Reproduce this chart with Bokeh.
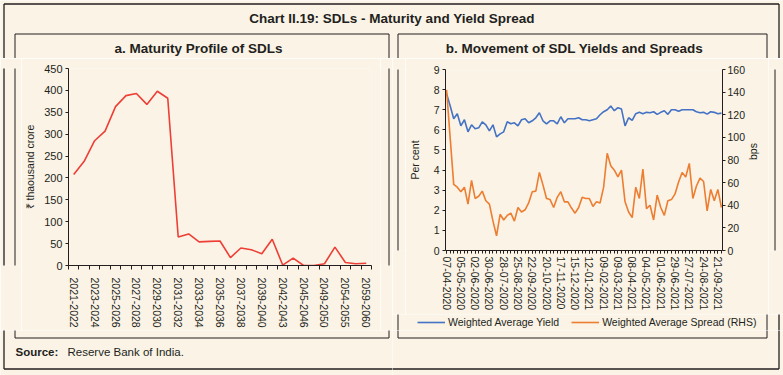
import math
from bokeh.plotting import figure
from bokeh.layouts import column, row
from bokeh.models import Range1d, LinearAxis, FixedTicker, Legend, LegendItem
from bokeh.embed import file_html
from bokeh.resources import INLINE
from bokeh.core.properties import value

# ---------------- data ----------------
maturity_years = [
    "2021-2022", "2022-2023", "2023-2024", "2024-2025", "2025-2026", "2026-2027",
    "2027-2028", "2028-2029", "2029-2030", "2030-2031", "2031-2032", "2032-2033",
    "2033-2034", "2034-2035", "2035-2036", "2036-2037", "2037-2038", "2038-2039",
    "2039-2040", "2040-2041", "2042-2043", "2043-2044", "2045-2046", "2047-2048",
    "2049-2050", "2051-2052", "2054-2055", "2056-2057", "2059-2060",
]
maturity_values = [
    208, 238, 285, 307, 363, 388, 393, 368, 398, 382,
    65, 72, 54, 55, 56, 18, 40, 36, 27, 60,
    1, 17, 0, 0, 4, 42, 7, 4, 5,
]

week_labels = [
    "07-04-2020", "05-05-2020", "02-06-2020", "30-06-2020", "28-07-2020",
    "25-08-2020", "22-09-2020", "20-10-2020", "17-11-2020", "15-12-2020",
    "12-01-2021", "09-02-2021", "09-03-2021", "08-04-2021", "04-05-2021",
    "01-06-2021", "29-06-2021", "27-07-2021", "24-08-2021", "21-09-2021",
]
yield_pct = [
    7.8, 7.2, 6.55, 6.8, 6.2, 6.5, 5.9, 6.25, 6.05, 6.1,
    6.4, 6.25, 5.95, 6.25, 5.65, 5.8, 5.9, 6.4, 6.3, 6.35,
    6.2, 6.5, 6.55, 6.35, 6.45, 6.6, 6.85, 6.45, 6.3, 6.45,
    6.45, 6.3, 6.65, 6.35, 6.55, 6.55, 6.55, 6.6, 6.5, 6.5,
    6.45, 6.5, 6.55, 6.75, 6.9, 7.0, 7.18, 6.95, 7.1, 7.03,
    6.2, 6.6, 6.47, 6.8, 6.87, 6.8, 6.87, 6.85, 6.9, 6.77,
    6.87, 6.95, 6.77, 7.0, 7.0, 6.92, 7.0, 7.0, 7.0, 7.0,
    6.9, 6.85, 6.87, 6.78, 6.9, 6.87, 6.8, 6.83,
]
spread_bps = [
    142, 100, 58.5, 56, 52, 56, 41, 62, 46, 48,
    52.5, 44, 41, 26, 13, 32, 27, 31, 33, 26,
    38, 34, 36, 42, 52, 52.5, 69, 58, 46, 45,
    38, 47, 52, 43, 43, 37.5, 33, 38, 47, 46,
    46, 39, 43, 42, 56, 86, 75, 71, 65, 71,
    43, 34, 29, 56, 46, 72, 37, 40, 27, 49,
    38, 31, 44, 45, 50, 60.5, 69, 65, 77, 46,
    57, 64, 61, 35, 54, 44, 54, 38,
]
series_names = ["Weighted Average Yield", "Weighted Average Spread (RHS)"]

# ---------------- style ----------------
BG = "#FAF3E6"
INK = "#231F20"
FONT = "Liberation Sans"
RED = "#EE3F36"
BLUE = "#4472C4"
ORANGE = "#ED7D31"

W, H = 783, 375
TOP_H = 58          # title band
MID_H = 272         # chart band (58..330)
LEG_H = 16          # legend band under right chart (314..330)
BOT_H = H - TOP_H - MID_H
SPLIT = 392         # left / right halves

# frame segments in page pixels (x0, y0, x1, y1, width)
SEGS = [
    (3.5, 3.5, 778.5, 3.5, 1.3), (3.5, 368.5, 778.5, 368.5, 1.3),
    (3.5, 3.5, 3.5, 368.5, 1.3), (778.5, 3.5, 778.5, 368.5, 1.3),
    (14.5, 33.5, 388.5, 33.5, 1), (14.5, 337.5, 388.5, 337.5, 1),
    (14.5, 33.5, 14.5, 337.5, 1), (388.5, 33.5, 388.5, 337.5, 1),
    (397.5, 33.5, 766.5, 33.5, 1), (397.5, 337.5, 766.5, 337.5, 1),
    (397.5, 33.5, 397.5, 337.5, 1), (766.5, 33.5, 766.5, 337.5, 1),
]


def deco_fig(w, h, ox, oy):
    p = figure(width=w, height=h, x_range=Range1d(0, w), y_range=Range1d(h, 0),
               x_axis_type=None, y_axis_type=None, toolbar_location=None,
               output_backend="svg", min_border=0)
    p.outline_line_color = None
    p.background_fill_color = BG
    p.border_fill_color = BG
    for lw in sorted(set(s[4] for s in SEGS)):
        ss = [s for s in SEGS if s[4] == lw]
        p.segment(x0=[s[0] - ox for s in ss], y0=[s[1] - oy for s in ss],
                  x1=[s[2] - ox for s in ss], y1=[s[3] - oy for s in ss],
                  line_color=INK, line_width=lw)
    return p


def style_axis(ax, size):
    ax.axis_line_color = INK
    ax.major_tick_line_color = INK
    ax.minor_tick_line_color = INK
    ax.major_label_text_font = FONT
    ax.major_label_text_font_size = size
    ax.major_label_text_color = INK
    ax.axis_label_text_font = FONT
    ax.axis_label_text_font_style = "normal"
    ax.axis_label_text_font_size = size
    ax.axis_label_text_color = INK
    ax.major_tick_in = 0
    ax.minor_tick_in = 0


# ---------------- top band ----------------
top = deco_fig(W, TOP_H, 0, 0)
top.text(x=[391.5], y=[18], text=["Chart II.19: SDLs - Maturity and Yield Spread"],
         text_font=value(FONT), text_font_style="bold",
         text_font_size="13.5px", text_align="center", text_baseline="middle",
         text_color=INK)
top.text(x=[198, 574], y=[48, 48],
         text=["a. Maturity Profile of SDLs", "b. Movement of SDL Yields and Spreads"],
         text_font=value(FONT), text_font_style="bold", text_font_size="13.5px",
         text_align="center", text_baseline="middle", text_color=INK)

# ---------------- left chart ----------------
L_X0, L_X1 = 21, 380
pl = figure(frame_width=303, frame_height=197, x_range=Range1d(-0.5, 28.5),
            y_range=Range1d(0, 450), toolbar_location=None, output_backend="svg",
            min_border_left=47, min_border_right=9, min_border_top=10,
            min_border_bottom=65)
pl.background_fill_color = BG
pl.border_fill_color = BG
pl.outline_line_color = None
pl.xgrid.visible = False
pl.ygrid.visible = False
pl.line(x=list(range(len(maturity_values))), y=maturity_values, line_color=RED,
        line_width=1.6)

ya = pl.yaxis[0]
style_axis(ya, "11px")
ya.ticker = FixedTicker(ticks=list(range(0, 451, 50)), minor_ticks=[])
ya.major_tick_out = 3
ya.minor_tick_out = 0
ya.major_label_standoff = 3
ya.axis_label = "₹ thaousand crore"
ya.axis_label_text_font_size = "10.5px"
ya.axis_label_standoff = 5

xa = pl.xaxis[0]
style_axis(xa, "10.5px")
even = list(range(0, len(maturity_years), 2))
xa.ticker = FixedTicker(ticks=even,
                        minor_ticks=[i - 0.5 for i in range(len(maturity_years) + 1)])
xa.major_label_overrides = {i: maturity_years[i] for i in even}
xa.major_tick_out = 0
xa.minor_tick_out = 4
xa.major_label_orientation = "vertical"
xa.major_label_standoff = 8

# ---------------- right chart ----------------
R_X0, R_X1 = 405, 760
R_H = MID_H - LEG_H
pr = figure(frame_width=277, frame_height=181, x_range=Range1d(-0.3, 77.3),
            y_range=Range1d(0, 9), toolbar_location=None, output_backend="svg",
            min_border_left=38, min_border_right=40, min_border_top=11,
            min_border_bottom=R_H - 11 - 181)
pr.background_fill_color = BG
pr.border_fill_color = BG
pr.outline_line_color = None
pr.xgrid.visible = False
pr.ygrid.visible = False
pr.extra_y_ranges = {"bps": Range1d(0, 160)}

xs = list(range(len(yield_pct)))
r1 = pr.line(x=xs, y=yield_pct, line_color=BLUE, line_width=1.6)
r2 = pr.line(x=xs, y=spread_bps, line_color=ORANGE, line_width=1.6,
             y_range_name="bps")

ly = pr.yaxis[0]
style_axis(ly, "10.5px")
ly.ticker = FixedTicker(ticks=list(range(0, 10)), minor_ticks=[])
ly.major_tick_out = 3
ly.minor_tick_out = 0
ly.major_label_standoff = 3
ly.axis_label = "Per cent"
ly.axis_label_standoff = 10

ry = LinearAxis(y_range_name="bps", ticker=FixedTicker(ticks=list(range(0, 161, 20)),
                                                       minor_ticks=[]))
style_axis(ry, "10.5px")
ry.major_tick_out = 3
ry.minor_tick_out = 0
ry.major_label_standoff = 2
ry.axis_label = "bps"
ry.axis_label_standoff = 5
if "axis_label_orientation" in ry.properties():
    ry.axis_label_orientation = math.pi / 2
pr.add_layout(ry, "right")

rx = pr.xaxis[0]
style_axis(rx, "10.5px")
wk_ticks = list(range(0, 4 * len(week_labels), 4))
rx.ticker = FixedTicker(ticks=wk_ticks, minor_ticks=xs)
rx.major_label_overrides = {t: week_labels[k] for k, t in enumerate(wk_ticks)}
rx.major_tick_out = 3
rx.minor_tick_out = 3
rx.major_label_orientation = "vertical"
rx.major_label_standoff = 3

# ---------------- legend band under the right chart ----------------
leg = deco_fig(W - SPLIT, LEG_H, SPLIT, TOP_H + R_H)
nan = float("nan")
k1 = leg.line(x=[nan], y=[nan], line_color=BLUE, line_width=1.6)
k2 = leg.line(x=[nan], y=[nan], line_color=ORANGE, line_width=1.6)
legend = Legend(items=[LegendItem(label=series_names[0], renderers=[k1]),
                       LegendItem(label=series_names[1], renderers=[k2])],
                orientation="horizontal", location=(417 - SPLIT, 2))
legend.background_fill_alpha = 0
legend.border_line_color = None
legend.label_text_font = FONT
legend.label_text_font_size = "10.5px"
legend.label_text_color = INK
legend.label_height = 12
legend.glyph_height = 12
legend.glyph_width = 28
legend.label_standoff = 3
legend.spacing = 12
legend.padding = 0
legend.margin = 0
leg.add_layout(legend, "center")

# ---------------- strips ----------------
stripL = deco_fig(L_X0, MID_H, 0, TOP_H)
stripMl = deco_fig(SPLIT - L_X1, MID_H, L_X1, TOP_H)
stripMr = deco_fig(R_X0 - SPLIT, R_H, SPLIT, TOP_H)
stripR = deco_fig(W - R_X1, R_H, R_X1, TOP_H)

# ---------------- bottom band ----------------
botL = deco_fig(SPLIT, BOT_H, 0, TOP_H + MID_H)
botL.text(x=[15], y=[351 - TOP_H - MID_H], text=["Source:"], text_font=value(FONT),
          text_font_style="bold", text_font_size="11.5px", text_align="left",
          text_baseline="middle", text_color=INK)
botL.text(x=[67], y=[351 - TOP_H - MID_H], text=["Reserve Bank of India."],
          text_font=value(FONT), text_font_size="11.5px", text_align="left",
          text_baseline="middle", text_color=INK)
botR = deco_fig(W - SPLIT, BOT_H, SPLIT, TOP_H + MID_H)

left_half = column(row(stripL, pl, stripMl, spacing=0), botL, spacing=0)
right_half = column(row(stripMr, pr, stripR, spacing=0), leg, botR, spacing=0)
layout = column(top, row(left_half, right_half, spacing=0), spacing=0)

open("out.html", "w").write(file_html(layout, INLINE))
